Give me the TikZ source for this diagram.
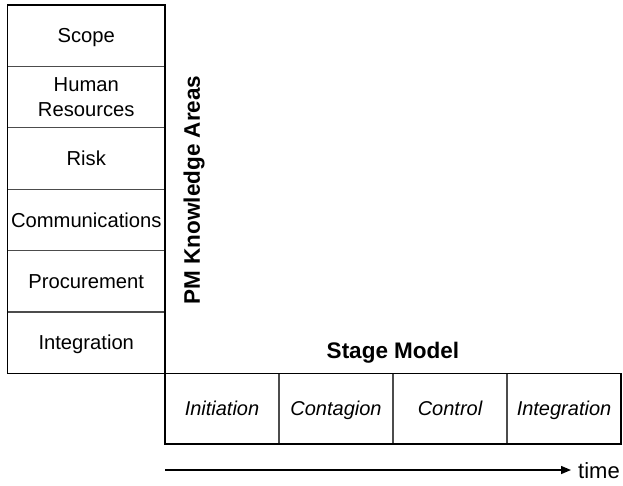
\documentclass[tikz,border=0pt]{standalone}
\usepackage{fontspec}
\setmainfont{Liberation Sans}
\usetikzlibrary{arrows.meta}
\begin{document}
\begin{tikzpicture}[x=1pt,y=-1pt,
  areabase/.style={draw=black!70, line width=1.2pt, inner sep=0pt, outer sep=0pt,
    minimum width=157.5pt, minimum height=61.4pt, align=center,
    font=\fontsize{20.2}{25}\selectfont},
  area/.style={areabase, text height=14.4pt, text depth=0pt},
  stage/.style={draw=black!70, line width=1.2pt, inner sep=0pt, outer sep=0pt,
    minimum width=114pt, minimum height=70.5pt, text height=14.4pt, text depth=0pt,
    font=\fontsize{20}{24}\selectfont\itshape},
  frame/.style={draw=black, line width=1.4pt},
  title/.style={font=\fontsize{22.5}{27}\selectfont\bfseries, inner sep=0pt}
]
\useasboundingbox (0,0) rectangle (623,485);
\fill[white] (0,0) rectangle (623,485);
% knowledge areas
\node[area] (scope) at (86.25,35.7) {Scope};
\node[areabase] (hr) at (86.25,97.1) {Human\\Resources};
\node[area] (risk) at (86.25,158.5) {Risk};
\node[area] (comm) at (86.25,219.9) {Communications};
\node[area] (proc) at (86.25,281.3) {Procurement};
\node[area] (integ) at (86.25,342.7) {Integration};
\draw[frame] (scope.north west) rectangle (integ.south east);
% stages
\node[stage] (init) at (222,408.7) {Initiation};
\node[stage] (cont) at (336,408.7) {Contagion};
\node[stage] (ctrl) at (450,408.7) {Control};
\node[stage] (sint) at (564,408.7) {Integration};
\draw[frame] (init.north west) rectangle (sint.south east);
% titles
\node[title, rotate=90] (pm) at (194,190) {PM Knowledge Areas};
\node[title, anchor=base] (sm) at (393,358) {Stage Model};
% time arrow
\coordinate (t0) at (165,470);
\coordinate (t1) at (571,470);
\draw[line width=1.4pt, -{Triangle[length=10pt,width=8pt]}] (t0) -- (t1);
\node[inner sep=0pt, anchor=base west, font=\fontsize{22}{26}\selectfont] (time) at (578,478) {time};
\end{tikzpicture}
\end{document}
